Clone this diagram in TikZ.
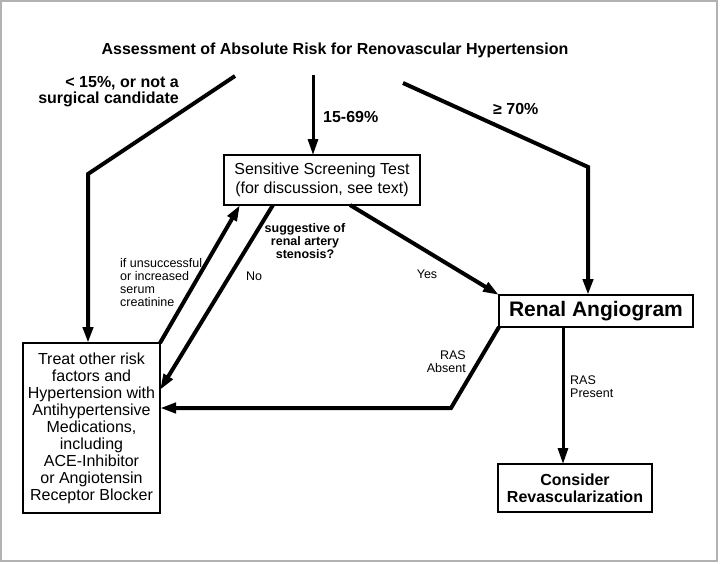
\documentclass[tikz,border=0pt]{standalone}
\usepackage{fontspec}
\setmainfont{Liberation Sans}
\usetikzlibrary{arrows.meta,calc}
\begin{document}
\begin{tikzpicture}[x=1pt,y=-1pt,
  box/.style={draw,line width=2pt,inner sep=0pt,outer sep=0pt,align=center},
  tip/.style={-{Triangle[length=16pt,width=10pt]}},
  thickline/.style={line width=4pt},
  midline/.style={line width=3pt},
  lbl/.style={inner sep=0pt,font=\fontsize{12.5}{13}\selectfont},
  blbl/.style={inner sep=0pt,font=\bfseries\fontsize{16}{16}\selectfont}]
\useasboundingbox (0,0) rectangle (720,563);
\draw[gray!60,line width=1.5pt] (1,1) rectangle (717,561);

\node[inner sep=0pt,font=\bfseries\fontsize{16}{16}\selectfont] (title) at (335,50) {Assessment of Absolute Risk for Renovascular Hypertension};

\node[box,minimum width=196pt,minimum height=50pt,font=\fontsize{16}{19}\selectfont] (screen) at (322,180) {Sensitive Screening Test\\(for discussion, see text)};
\node[box,minimum width=194pt,minimum height=32pt,font=\bfseries\fontsize{21}{22}\selectfont] (renal) at (596,311) {Renal Angiogram};
\node[box,minimum width=154pt,minimum height=48pt,font=\bfseries\fontsize{16}{17}\selectfont] (consider) at (575,488) {Consider\\Revascularization};
\node[box,minimum width=137pt,minimum height=170pt,font=\fontsize{16}{17}\selectfont] (treat) at (91.5,428) {Treat other risk\\factors and\\Hypertension with\\Antihypertensive\\Medications,\\including\\ACE-Inhibitor\\or Angiotensin\\Receptor Blocker};

% labels
\node[blbl,align=right,anchor=east] (lowlbl) at (179,92) {{<} 15\%, or not a\\surgical candidate};
\node[blbl,anchor=west] (midlbl) at (323,117) {15-69\%};
\node[blbl,anchor=west] (highlbl) at (493,109) {≥ 70\%};
\node[lbl,font=\bfseries\fontsize{12.5}{13}\selectfont,align=center] (suglbl) at (305,241) {suggestive of\\renal artery\\stenosis?};
\node[lbl] (nolbl) at (254,276) {No};
\node[lbl] (yeslbl) at (427,274) {Yes};
\node[lbl,align=left,anchor=west] (unsuc) at (120,283) {if unsuccessful\\or increased\\serum\\creatinine};
\node[lbl,align=right,anchor=east] (abslbl) at (466,362) {RAS\\Absent};
\node[lbl,align=left,anchor=west] (preslbl) at (570,387) {RAS\\Present};

% coordinates
\coordinate (l0) at (235,76);
\coordinate (l1) at (88,174);
\coordinate (m0) at (313,75);
\coordinate (r0) at (403,83);
\coordinate (r1) at (588,167);
\coordinate (a1) at (451,408);

% connectors
\draw[thickline,tip,line join=miter] (l0) -- (l1) -- (l1 |- treat.north);
\draw[midline,tip] (m0) -- (m0 |- screen.north);
\draw[thickline,tip,line join=miter] (r0) -- (r1) -- (r1 |- renal.north);
\draw[thickline,tip] (treat.north east) -- ([xshift=16pt]screen.south west);
\draw[thickline,tip] ([xshift=49pt]screen.south west) -- ([yshift=-47pt]treat.north east);
\draw[thickline,tip] ([xshift=28pt]screen.south) -- (renal.north west);
\draw[thickline,tip,line join=miter] (renal.south west) -- (a1) -- (a1 -| treat.east);
\draw[midline,tip] ([xshift=-33pt]renal.south) -- ([xshift=-33pt]renal.south |- consider.north);
\end{tikzpicture}
\end{document}
